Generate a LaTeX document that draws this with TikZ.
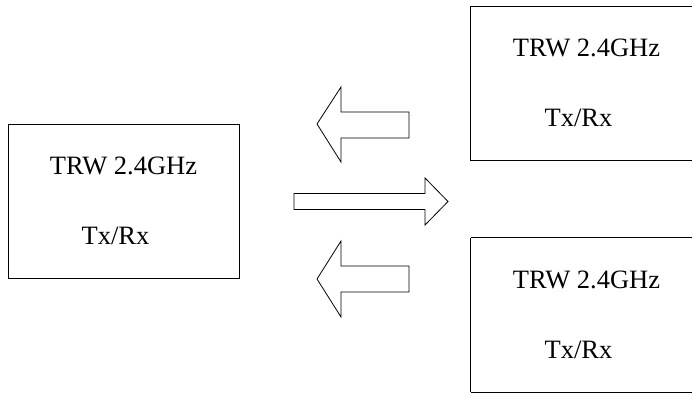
\documentclass[tikz,border=0pt]{standalone}
\usepackage{fontspec}
\setmainfont{Liberation Serif}
\tikzset{
  radio/.style={minimum width=231pt,minimum height=154pt,inner sep=0pt},
  frame/.style={line width=1pt},
  lbl/.style={anchor=base,inner sep=0pt,font=\fontsize{26.5}{30}\selectfont},
  fatarrow/.style={draw,line width=0.8pt,line join=miter}
}
\begin{document}
\begin{tikzpicture}[x=1pt,y=-1pt]
 \useasboundingbox (0,0) rectangle (692,396);
 \node[radio,draw,frame] (base) at (123.5,201.5) {};
 \node[radio] (up) at (586.5,83.5) {};
 \node[radio] (down) at (586.5,315) {};
 % right boxes run past the edge
 \foreach \b in {up,down}{
   \draw[frame] (\b.north west) -- ++(240,0);
   \draw[frame] (\b.north west) -- (\b.south west);
   \draw[frame] (\b.south west) -- ++(240,0);
 }
 \foreach \b in {base,up,down}{
   \node[lbl] (\b-name) at ([yshift=27pt]\b.center) {TRW 2.4GHz};
   \node[lbl] (\b-mode) at ([xshift=-8pt,yshift=-43pt]\b.center) {Tx/Rx};
 }
 \draw[fatarrow](317,124)--(341,87)--(341,112)--(409,112)--(409,138)--(341,138)--(341,162)--cycle; 
 \draw[fatarrow](448,201.5)--(425,178)--(425,193.5)--(294,193.5)--(294,209.5)--(425,209.5)--(425,225)--cycle; 
 \draw[fatarrow](317,279)--(341,241)--(341,266)--(409,266)--(409,292)--(341,292)--(341,317)--cycle; 
\end{tikzpicture}
\end{document}
